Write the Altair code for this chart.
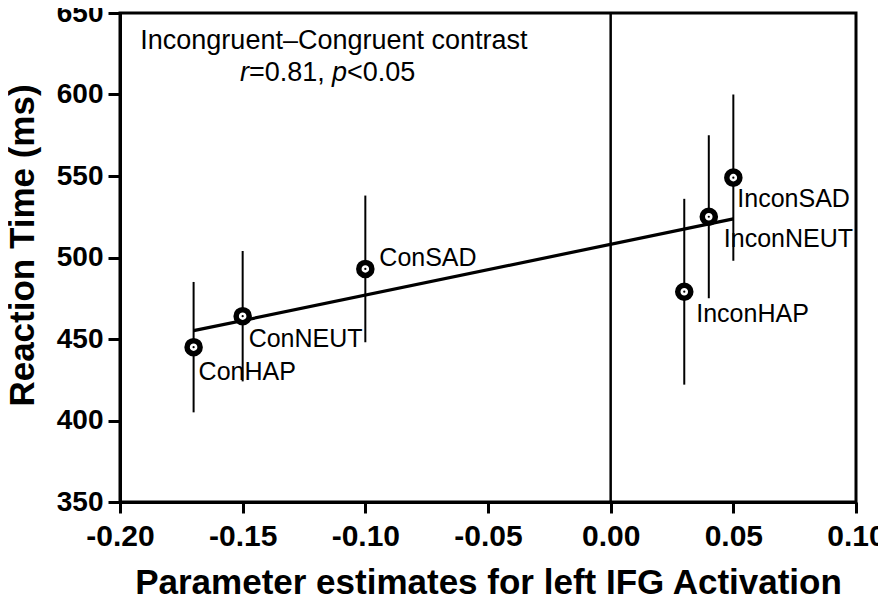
import altair as alt
import pandas as pd

# ---- data ----
conditions = ["ConHAP", "ConNEUT", "ConSAD", "InconHAP", "InconNEUT", "InconSAD"]
param_est = [-0.17, -0.15, -0.10, 0.03, 0.04, 0.05]
rt_mean = [445, 464, 493, 479, 525, 549]
rt_err = [40, 40, 45, 57, 50, 51]

x_ticks = [-0.20, -0.15, -0.10, -0.05, 0.00, 0.05, 0.10]
y_ticks = [350, 400, 450, 500, 550, 600, 650]

df = pd.DataFrame({
    "cond": conditions,
    "x": param_est,
    "y": rt_mean,
    "lo": [m - e for m, e in zip(rt_mean, rt_err)],
    "hi": [m + e for m, e in zip(rt_mean, rt_err)],
})

FONT = "Liberation Sans"

xscale = alt.Scale(domain=[-0.2, 0.1], nice=False, zero=False)
yscale = alt.Scale(domain=[350, 650], nice=False, zero=False)

xaxis = alt.Axis(
    values=x_ticks,
    labelExpr="(datum.value < -0.0001 ? '-' : '') + format(abs(datum.value), '.2f')",
    title="Parameter estimates for left IFG Activation",
    titleFont=FONT, titleFontSize=35, titleFontWeight="bold", titleColor="black",
    titleY=91, titleBaseline="alphabetic",
    labelFont=FONT, labelFontSize=30, labelFontWeight="bold", labelColor="black",
    labelPadding=8, labelFlush=False, labelOverlap=False,
    domainColor="black", domainWidth=3, tickColor="black", tickWidth=3, tickSize=11,
    grid=False,
)
yaxis = alt.Axis(
    values=y_ticks,
    title="Reaction Time  (ms)",
    titleFont=FONT, titleFontSize=35, titleFontWeight="bold", titleColor="black",
    titleX=-87, titleY=232, titleBaseline="alphabetic",
    labelFont=FONT, labelFontSize=28, labelFontWeight="bold", labelColor="black",
    labelPadding=5, labelFlush=False, labelOverlap=False,
    domainColor="black", domainWidth=3, tickColor="black", tickWidth=3, tickSize=12,
    grid=False,
)

base = alt.Chart(df)

errbars = base.mark_rule(color="black", strokeWidth=2).encode(
    x=alt.X("x:Q", scale=xscale, axis=xaxis),
    y=alt.Y("lo:Q", scale=yscale, axis=yaxis),
    y2="hi:Q",
)

regline = base.transform_regression("x", "y").mark_line(
    color="black", strokeWidth=3.2
).encode(x=alt.X("x:Q", scale=xscale), y=alt.Y("y:Q", scale=yscale))

zero_rule = alt.Chart(pd.DataFrame({"x0": [0.0]})).mark_rule(
    color="black", strokeWidth=2.5
).encode(x=alt.X("x0:Q", scale=xscale))

rings = base.mark_point(
    shape="circle", size=170, fill="white", stroke="black", strokeWidth=5.5,
    opacity=1, fillOpacity=1
).encode(x=alt.X("x:Q", scale=xscale), y=alt.Y("y:Q", scale=yscale))

dots = base.mark_point(
    shape="circle", size=5, filled=True, color="black", opacity=1
).encode(x=alt.X("x:Q", scale=xscale), y=alt.Y("y:Q", scale=yscale))

# per-label pixel offsets (style)
label_offsets = {
    "ConHAP": (5, 33),
    "ConNEUT": (6, 31),
    "ConSAD": (14, -3),
    "InconHAP": (12, 30),
    "InconNEUT": (15, 30),
    "InconSAD": (4, 29),
}
label_layers = []
for cond, (dx, dy) in label_offsets.items():
    label_layers.append(
        base.transform_filter(alt.datum.cond == cond).mark_text(
            align="left", baseline="alphabetic", dx=dx, dy=dy,
            font=FONT, fontSize=25, color="black"
        ).encode(
            x=alt.X("x:Q", scale=xscale), y=alt.Y("y:Q", scale=yscale), text="cond:N"
        )
    )

# annotation text
ann_line1 = pd.DataFrame({"t": ["Incongruent\u2013Congruent contrast"], "x": [-0.1128], "y": [627.9]})
ann_line2 = pd.DataFrame({
    "t": ["r", "=0.81, ", "p", "<0.05"],
    "style": ["italic", "normal", "italic", "normal"],
    "x": [-0.1511, -0.1474, -0.1136, -0.1075],
    "y": [608.3, 608.3, 608.3, 608.3],
})

ann1 = alt.Chart(ann_line1).mark_text(
    align="center", baseline="alphabetic", font=FONT, fontSize=27, color="black"
).encode(x=alt.X("x:Q", scale=xscale), y=alt.Y("y:Q", scale=yscale), text="t:N")

ann2_layers = []
for style in ["italic", "normal"]:
    ann2_layers.append(
        alt.Chart(ann_line2).transform_filter(alt.datum.style == style).mark_text(
            align="left", baseline="alphabetic", font=FONT, fontSize=27,
            color="black", fontStyle=style
        ).encode(x=alt.X("x:Q", scale=xscale), y=alt.Y("y:Q", scale=yscale), text="t:N")
    )

chart = alt.layer(
    errbars, regline, zero_rule, rings, dots, *label_layers, ann1, *ann2_layers
).properties(
    width=736, height=489,
    autosize=alt.AutoSizeParams(type="none"),
    padding={"left": 112, "top": 5, "right": 22, "bottom": 92},
    background="white",
).configure_view(
    stroke="black", strokeWidth=3
)

chart.save("out.html", embed_options={"renderer": "svg", "actions": False})
